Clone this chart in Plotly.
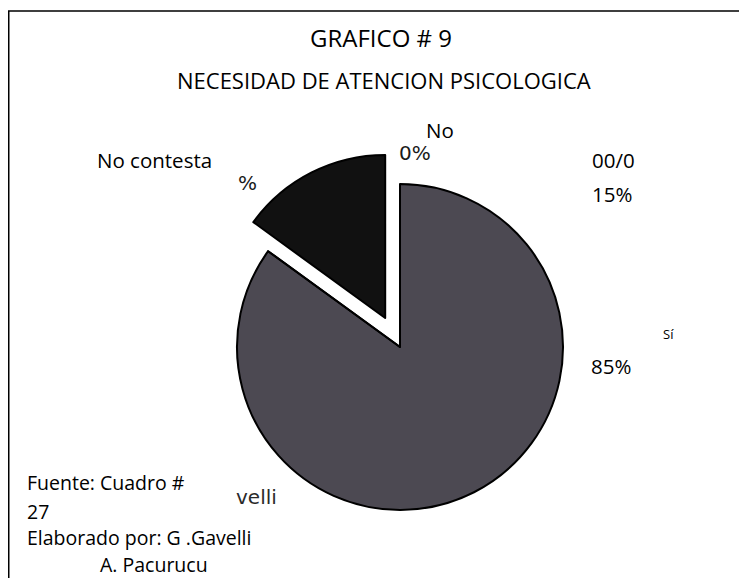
import plotly.graph_objects as go

# the page body adds an 8 px margin, so the figure is drawn 8 px in from the corner
OFF = 8
W, H = 747 - OFF, 578 - OFF

categories = ["Sí", "No", "No contesta"]
values = [85, 0, 15]
slice_colors = ["#4c4952", "#5a5a5a", "#111111"]
pulls = [0, 0, 0.2]

title_text = "GRAFICO # 9"
subtitle_text = "NECESIDAD DE ATENCION PSICOLOGICA"
label_texts = ["No contesta", "No", "00/0", "15%", "Sí", "85%"]
footer_lines = ["Fuente: Cuadro #", "27", "Elaborado por: G .Gavelli", "A. Pacurucu"]
scan_fragments = ["ntesta", "%", "0%", "velli"]

FONT = "Open Sans"


def px(x):
    return (x - OFF) / W


def py(y):
    return 1 - (y - OFF) / H


# pie geometry (screen pixels): centre and radius of the unpulled circle
cx, cy, r = 400, 347, 163
half = r * (1 + max(pulls))

fig = go.Figure(
    go.Pie(
        labels=categories,
        values=values,
        sort=False,
        direction="clockwise",
        rotation=0,
        pull=pulls,
        marker=dict(colors=slice_colors, line=dict(color="#000000", width=2)),
        textinfo="none",
        hoverinfo="label+percent",
        showlegend=False,
        domain=dict(x=[px(cx - half), px(cx + half)], y=[py(cy + half), py(cy - half)]),
    )
)

ann = []


def add(text, x, y, size=20.5, xanchor="left", color="#000000", family=FONT):
    ann.append(dict(text=text, x=px(x), y=py(y), xref="paper", yref="paper",
                    xanchor=xanchor, yanchor="middle", showarrow=False,
                    font=dict(family=family, size=size, color=color)))


add(title_text, 381, 38, size=24, xanchor="center")
add(subtitle_text, 384, 80, size=22, xanchor="center")

add(label_texts[0], 95, 160)
add(label_texts[1], 440, 130, xanchor="center")
add(label_texts[2], 590, 160)
add(label_texts[3], 590, 194)
add(label_texts[4], 661, 334, size=13)
add(label_texts[5], 589, 366)

add(footer_lines[0], 25, 482, size=19.5)
add(footer_lines[1], 25, 511, size=19.5)
add(footer_lines[2], 25, 537, size=19.5)
add(footer_lines[3], 98, 564, size=19.5)

# fragments of the scanned original that remain visible
add(scan_fragments[1], 236, 183, size=20, color="#1a1a1a", family="DejaVu Sans")
add(scan_fragments[2], 397, 153, size=20, color="#1a1a1a", family="DejaVu Sans")
add(scan_fragments[3], 234, 497, size=20, color="#2a2a2a", family="DejaVu Sans")

fig.update_layout(
    width=W,
    height=H,
    margin=dict(l=0, r=0, t=0, b=0),
    paper_bgcolor="#ffffff",
    plot_bgcolor="#ffffff",
    annotations=ann,
    shapes=[dict(type="rect", xref="paper", yref="paper",
                 x0=px(8.75), y0=py(H + 40), x1=px(W + 40), y1=py(11),
                 line=dict(color="#000000", width=1.5), fillcolor="rgba(0,0,0,0)",
                 layer="below")],
)

fig.write_html("out.html")
